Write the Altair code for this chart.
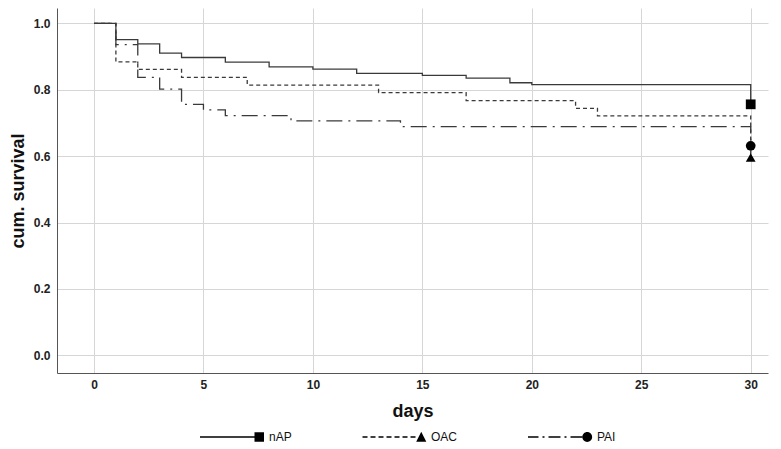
import altair as alt
import pandas as pd

# ---- data ----
groups = ["nAP", "OAC", "PAI"]

nap_days = [0, 1, 2, 3, 4, 6, 8, 10, 12, 15, 17, 19, 20, 30]
nap_surv = [1.0, 0.951, 0.938, 0.910, 0.897, 0.883, 0.869, 0.862, 0.849, 0.843, 0.835, 0.821, 0.815, 0.756]

oac_days = [0, 1, 2, 4, 7, 13, 17, 22, 23, 30]
oac_surv = [1.0, 0.884, 0.861, 0.837, 0.814, 0.791, 0.767, 0.744, 0.721, 0.596]

pai_days = [0, 1, 2, 3, 4, 5, 6, 9, 14, 30]
pai_surv = [1.0, 0.936, 0.837, 0.802, 0.756, 0.739, 0.722, 0.706, 0.689, 0.631]

x_ticks = [0, 5, 10, 15, 20, 25, 30]
y_ticks = [0.0, 0.2, 0.4, 0.6, 0.8, 1.0]

rows = []
for g, ds, ss in zip(groups, [nap_days, oac_days, pai_days], [nap_surv, oac_surv, pai_surv]):
    for i, (d, s) in enumerate(zip(ds, ss)):
        rows.append({"group": g, "day": d, "surv": s, "idx": i})
df = pd.DataFrame(rows)
ends = df.loc[df.groupby("group")["idx"].idxmax()].reset_index(drop=True)

# ---- legend symbols (line + marker) as custom paths ----
K = 32.0  # px per unit of a custom symbol (sqrt(size)/2)


def u(v):
    return round(v / K, 4)


def rect(x0, x1, hw):
    return f"M{u(x0)},{u(-hw)}L{u(x1)},{u(-hw)}L{u(x1)},{u(hw)}L{u(x0)},{u(hw)}Z"


def dashed(pattern, x_start, x_end, hw=0.7):
    # build dashes backwards from the marker so that the pattern ends at it
    parts = []
    x = x_end
    i = 0
    while x > x_start:
        seg = pattern[i % len(pattern)]
        if i % 2 == 0:
            parts.append(rect(max(x - seg, x_start), x, hw))
        x -= seg
        i += 1
    return "".join(parts)


m1 = K
m0 = m1 - 9.5
cx = (m0 + m1) / 2
h = 4.75
square = f"M{u(m0)},{u(-h)}L{u(m1)},{u(-h)}L{u(m1)},{u(h)}L{u(m0)},{u(h)}Z"
tri = f"M{u(cx)},{u(-h - 0.5)}L{u(m1 + 0.3)},{u(h)}L{u(m0 - 0.3)},{u(h)}Z"
r = 4.9
circ = (f"M{u(cx - r)},0A{u(r)},{u(r)} 0 1,0 {u(cx + r)},0"
        f"A{u(r)},{u(r)} 0 1,0 {u(cx - r)},0Z")

path_nap = rect(-K, m0 + 1, 0.75) + square
path_oac = dashed([5, 3], -K, m0 - 1) + tri
path_pai = dashed([12, 4, 2, 4], -K, m0) + circ

font = "Liberation Sans"
narrow = "Liberation Sans Narrow, Arial Narrow, Liberation Sans"

x_scale = alt.Scale(domain=[-1.69, 30.79], nice=False, zero=False)
y_scale = alt.Scale(domain=[-0.053, 1.046], nice=False, zero=False)

x_enc = alt.X("day:Q", scale=x_scale,
              axis=alt.Axis(values=x_ticks, title="days", format="d"))
y_enc = alt.Y("surv:Q", scale=y_scale,
              axis=alt.Axis(values=y_ticks, title="cum. survival", format=".1f"))

lines = alt.Chart(df).mark_line(
    interpolate="step-after", color="#3a3a3a", strokeWidth=1.3
).encode(
    x=x_enc,
    y=y_enc,
    detail="group:N",
    order="idx:Q",
    strokeDash=alt.StrokeDash(
        "group:N",
        scale=alt.Scale(domain=groups, range=[[1, 0], [4, 3], [16, 6, 2, 6]]),
        legend=None,
    ),
)

markers = alt.Chart(ends).mark_point(
    filled=True, opacity=1, color="black", size=95
).encode(
    x=x_enc,
    y=y_enc,
    shape=alt.Shape(
        "group:N",
        scale=alt.Scale(domain=groups, range=["square", "triangle-up", "circle"]),
        legend=None,
    ),
)

legend_layer = alt.Chart(ends).transform_filter("datum.day < -100").mark_point(
    filled=True, opacity=1, color="black"
).encode(
    x=x_enc,
    y=y_enc,
    shape=alt.Shape(
        "group:N",
        scale=alt.Scale(domain=groups, range=[path_nap, path_oac, path_pai]),
        legend=alt.Legend(
            title=None,
            orient="none",
            legendX=143,
            legendY=421,
            direction="horizontal",
            columns=3,
            symbolSize=int((2 * K) ** 2),
            symbolStrokeWidth=0,
            symbolFillColor="black",
            labelFont=font,
            labelFontSize=12,
            labelColor="#111",
            labelOffset=5,
            columnPadding=70,
            clipHeight=16,
        ),
    ),
)

chart = alt.layer(lines, markers, legend_layer).resolve_scale(
    shape="independent"
).properties(
    width=711,
    height=365,
    autosize=alt.AutoSizeParams(type="none"),
    padding={"left": 49, "top": 0, "right": 5, "bottom": 70},
).configure_view(
    stroke=None
).configure_axis(
    grid=True,
    gridColor="#d6d6d6",
    gridWidth=1,
    domainColor="#555555",
    domainWidth=1,
    ticks=False,
    labelFont=narrow,
    labelFontWeight="bold",
    labelFontSize=12,
    labelColor="#222",
    titleFont=font,
    titleFontWeight="bold",
    titleFontSize=18,
    titleColor="#111",
).configure_axisX(
    labelPadding=6,
    titlePadding=12,
).configure_axisY(
    labelPadding=7,
    titlePadding=6,
)

chart.save("out.html", embed_options={"renderer": "svg", "actions": False})
